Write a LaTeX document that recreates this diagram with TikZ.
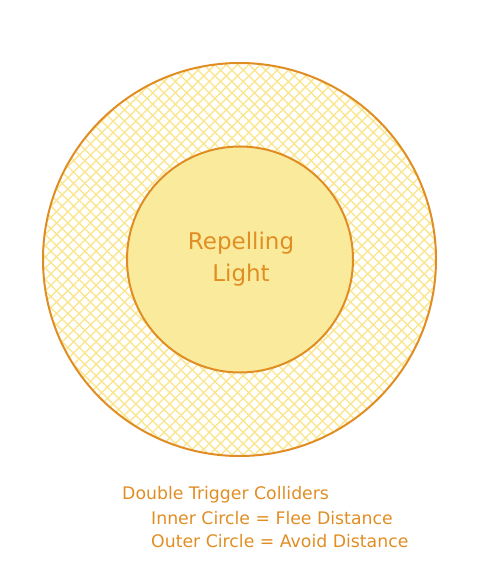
\documentclass[tikz,border=0pt]{standalone}
\usepackage{fontspec}
\setmainfont{DejaVu Sans}
\usetikzlibrary{patterns.meta}
\definecolor{strokeor}{RGB}{224,142,36}
\definecolor{fillyel}{RGB}{250,235,156}
\definecolor{hatchyel}{RGB}{250,230,145}
\tikzset{
  ring/.style={draw=strokeor, line width=2pt},
  lbl/.style={text=strokeor, inner sep=0pt},
  note/.style={lbl, anchor=west, font=\fontsize{17.3}{20}\selectfont},
}
\begin{document}
\begin{tikzpicture}[x=1pt,y=-1pt]
\useasboundingbox (0,0) rectangle (478,585);
% outer circle hatch
\path[pattern={Lines[angle=45,distance=8pt,line width=1.4pt]}, pattern color=hatchyel] (239.5,259.5) circle (196.5);
\path[pattern={Lines[angle=-45,distance=8pt,line width=1.4pt]}, pattern color=hatchyel] (239.5,259.5) circle (196.5);
\node[ring, circle, minimum size=393pt, inner sep=0pt] (outer) at (239.5,259.5) {};
\node[ring, circle, fill=fillyel, minimum size=226pt, inner sep=0pt] (inner) at (240,259.5) {};
\node[lbl, font=\fontsize{23}{32}\selectfont, align=center] (title) at (241,259) {Repelling\\Light};
\node[note] (l1) at (122,495) {Double Trigger Colliders};
\node[note] (l2) at (151,518) {Inner Circle = Flee Distance};
\node[note] (l3) at (151,541) {Outer Circle = Avoid Distance};
\end{tikzpicture}
\end{document}
